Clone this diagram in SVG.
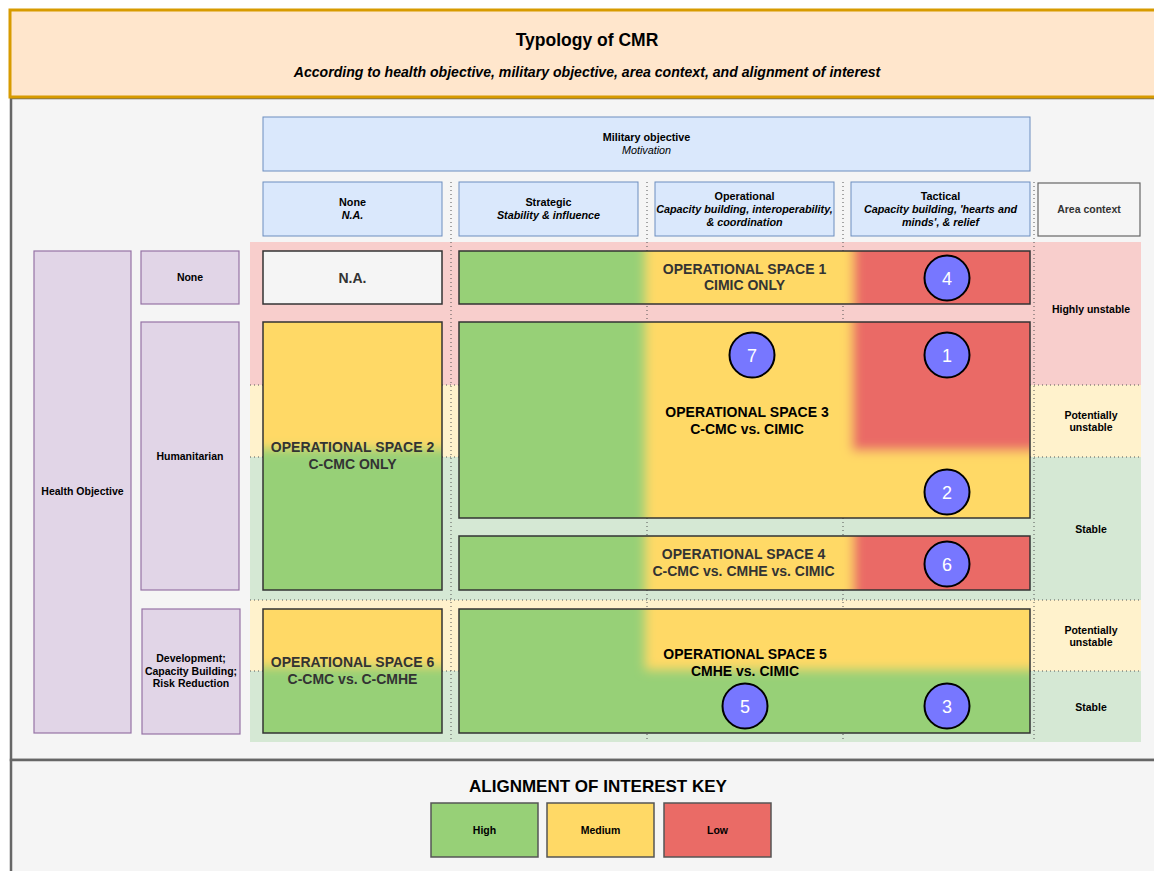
<svg xmlns="http://www.w3.org/2000/svg" width="1154" height="871" viewBox="0 0 1154 871">
<defs>
<style>
text{font-family:"Liberation Sans",Arial,Helvetica,sans-serif;fill:#000;text-anchor:middle}
.b{font-weight:bold}
.hd{font-size:10.8px;font-weight:bold}
.hi{font-size:10.8px;font-weight:bold;font-style:italic}
.lb{font-size:10.5px;font-weight:bold}
.os{font-size:14px;font-weight:bold}
.num{font-size:18px;fill:#fff}
.blue{fill:#dae8fc;stroke:#6c8ebf;stroke-width:1}
.purple{fill:#e1d5e7;stroke:#9673a6;stroke-width:1.2}
.box{fill:none;stroke:#333;stroke-width:1.5}
.dot{stroke:#555;stroke-width:1;stroke-dasharray:1 3;fill:none}
.circ{fill:#7777ff;stroke:#000;stroke-width:2}
.g{fill:#97d077}.y{fill:#ffd966}.r{fill:#ea6b66}
</style>
<filter id="soft" filterUnits="userSpaceOnUse" x="0" y="0" width="1154" height="871"><feGaussianBlur stdDeviation="5.5"/></filter>
<clipPath id="c1"><rect x="459" y="251" width="571" height="53"/></clipPath>
<clipPath id="c2"><rect x="263" y="322" width="179" height="268"/></clipPath>
<clipPath id="c3"><rect x="459" y="322" width="571" height="196"/></clipPath>
<clipPath id="c4"><rect x="459" y="536" width="571" height="54"/></clipPath>
<clipPath id="c5"><rect x="459" y="609" width="571" height="124"/></clipPath>
<clipPath id="c6"><rect x="263" y="609" width="179" height="124"/></clipPath>
</defs>
<rect x="0" y="0" width="1154" height="871" fill="#ffffff"/>

<g id="panel-main">
<rect x="11" y="98" width="1160" height="662" fill="#f5f5f5" stroke="#666" stroke-width="2.5"/>
</g>
<g id="panel-key">
<rect x="11" y="760" width="1160" height="130" fill="#f5f5f5" stroke="#666" stroke-width="2.5"/>
</g>
<g id="title">
<rect x="10" y="10" width="1160" height="87" fill="#ffe6cc" stroke="#d79b00" stroke-width="3"/>
<text x="587" y="46" class="b" style="font-size:17.5px">Typology of CMR</text>
<text x="587" y="77" class="b" style="font-size:14.1px;font-style:italic">According to health objective, military objective, area context, and alignment of interest</text>
</g>

<g id="bands">
<rect x="250" y="242" width="891" height="143" fill="#f8cecc"/>
<rect x="250" y="385" width="891" height="72" fill="#fff2cc"/>
<rect x="250" y="457" width="891" height="143" fill="#d5e8d4"/>
<rect x="250" y="600" width="891" height="71" fill="#fff2cc"/>
<rect x="250" y="671" width="891" height="71" fill="#d5e8d4"/>
</g>

<g id="connectors">
<line class="dot" x1="451" y1="182" x2="451" y2="742"/>
<line class="dot" x1="647" y1="182" x2="647" y2="742"/>
<line class="dot" x1="843" y1="182" x2="843" y2="742"/>
<line class="dot" x1="1034" y1="182" x2="1034" y2="742"/>
<line class="dot" x1="250" y1="385" x2="1141" y2="385"/>
<line class="dot" x1="250" y1="457" x2="1141" y2="457"/>
<line class="dot" x1="250" y1="600" x2="1141" y2="600"/>
<line class="dot" x1="250" y1="671" x2="1141" y2="671"/>
</g>

<g id="military-objective">
<rect class="blue" x="263" y="117" width="767" height="54"/>
<text x="646.5" y="141" class="hd">Military objective</text>
<text x="646.5" y="154" style="font-size:10.8px;font-style:italic">Motivation</text>
</g>
<g id="col-none">
<rect class="blue" x="263" y="182" width="179" height="54"/>
<text x="352.5" y="206" class="hd">None</text>
<text x="352.5" y="219" class="hi">N.A.</text>
</g>
<g id="col-strategic">
<rect class="blue" x="459" y="182" width="179" height="54"/>
<text x="548.5" y="206" class="hd">Strategic</text>
<text x="548.5" y="219" class="hi">Stability &amp; influence</text>
</g>
<g id="col-operational">
<rect class="blue" x="655" y="182" width="179" height="54"/>
<text x="744.5" y="200" class="hd">Operational</text>
<text x="744.5" y="213" class="hi">Capacity building, interoperability,</text>
<text x="744.5" y="226" class="hi">&amp; coordination</text>
</g>
<g id="col-tactical">
<rect class="blue" x="851" y="182" width="179" height="54"/>
<text x="940.5" y="200" class="hd">Tactical</text>
<text x="940.5" y="213" class="hi">Capacity building, 'hearts and</text>
<text x="940.5" y="226" class="hi">minds', &amp; relief</text>
</g>
<g id="col-area">
<rect x="1038" y="183" width="102" height="53" fill="#f5f5f5" stroke="#666" stroke-width="1.2"/>
<text x="1089" y="213" class="lb" style="fill:#333">Area context</text>
</g>

<g id="health-objective">
<rect class="purple" x="34" y="251" width="97" height="482"/>
<text x="82.5" y="495" class="lb">Health Objective</text>
</g>
<g id="ho-none">
<rect class="purple" x="141" y="251" width="98" height="53"/>
<text x="190" y="281" class="lb">None</text>
</g>
<g id="ho-humanitarian">
<rect class="purple" x="141" y="322" width="98" height="268"/>
<text x="190" y="460" class="lb">Humanitarian</text>
</g>
<g id="ho-development">
<rect class="purple" x="142" y="609" width="98" height="125"/>
<text x="191" y="662" class="lb">Development;</text>
<text x="191" y="674.5" class="lb">Capacity Building;</text>
<text x="191" y="687" class="lb">Risk Reduction</text>
</g>

<g id="area-labels">
<text x="1091" y="313" class="lb">Highly unstable</text>
<text x="1091" y="419" class="lb">Potentially</text>
<text x="1091" y="431" class="lb">unstable</text>
<text x="1091" y="533" class="lb">Stable</text>
<text x="1091" y="634" class="lb">Potentially</text>
<text x="1091" y="646" class="lb">unstable</text>
<text x="1091" y="711" class="lb">Stable</text>
</g>

<g id="na">
<rect x="263" y="251" width="179" height="53" fill="#f5f5f5" stroke="#333" stroke-width="1.5"/>
<text x="352.5" y="283" class="os" style="fill:#333">N.A.</text>
</g>

<g id="os1">
<g clip-path="url(#c1)">
<rect class="g" x="459" y="251" width="571" height="53"/>
<g filter="url(#soft)">
<rect class="y" x="645" y="230" width="420" height="100"/>
<rect class="r" x="853" y="230" width="220" height="100"/>
</g>
</g>
<rect class="box" x="459" y="251" width="571" height="53"/>
<text x="744.5" y="274" class="os" style="fill:#333">OPERATIONAL SPACE 1</text>
<text x="744.5" y="290" class="os" style="fill:#333">CIMIC ONLY</text>
<circle class="circ" cx="947" cy="278" r="22.5"/>
<text x="947" y="284.5" class="num">4</text>
</g>

<g id="os2">
<g clip-path="url(#c2)">
<rect class="y" x="263" y="322" width="179" height="268"/>
<g filter="url(#soft)">
<rect class="g" x="240" y="449" width="230" height="170"/>
</g>
</g>
<rect class="box" x="263" y="322" width="179" height="268"/>
<text x="352.5" y="452" class="os" style="fill:#333">OPERATIONAL SPACE 2</text>
<text x="352.5" y="469" class="os" style="fill:#333">C-CMC ONLY</text>
</g>

<g id="os3">
<g clip-path="url(#c3)">
<rect class="g" x="459" y="322" width="571" height="196"/>
<g filter="url(#soft)">
<rect class="y" x="645" y="300" width="420" height="240"/>
<rect class="r" x="852" y="300" width="220" height="151"/>
</g>
</g>
<rect class="box" x="459" y="322" width="571" height="196"/>
<text x="747" y="417" class="os">OPERATIONAL SPACE 3</text>
<text x="747" y="434" class="os">C-CMC vs. CIMIC</text>
<circle class="circ" cx="752" cy="355" r="22.5"/>
<text x="752" y="361.5" class="num">7</text>
<circle class="circ" cx="947" cy="355" r="22.5"/>
<text x="947" y="361.5" class="num">1</text>
<circle class="circ" cx="947" cy="492" r="22.5"/>
<text x="947" y="498.5" class="num">2</text>
</g>

<g id="os4">
<g clip-path="url(#c4)">
<rect class="g" x="459" y="536" width="571" height="54"/>
<g filter="url(#soft)">
<rect class="y" x="645" y="515" width="420" height="100"/>
<rect class="r" x="853" y="515" width="220" height="100"/>
</g>
</g>
<rect class="box" x="459" y="536" width="571" height="54"/>
<text x="743.5" y="559" class="os" style="fill:#333">OPERATIONAL SPACE 4</text>
<text x="743.5" y="576" class="os" style="fill:#333">C-CMC vs. CMHE vs. CIMIC</text>
<circle class="circ" cx="947" cy="564" r="22.5"/>
<text x="947" y="570.5" class="num">6</text>
</g>

<g id="os5">
<g clip-path="url(#c5)">
<rect class="g" x="459" y="609" width="571" height="124"/>
<g filter="url(#soft)">
<rect class="y" x="645" y="590" width="420" height="80"/>
</g>
</g>
<rect class="box" x="459" y="609" width="571" height="124"/>
<text x="745" y="659" class="os">OPERATIONAL SPACE 5</text>
<text x="745" y="676" class="os">CMHE vs. CIMIC</text>
<circle class="circ" cx="745" cy="706" r="22.5"/>
<text x="745" y="712.5" class="num">5</text>
<circle class="circ" cx="947" cy="706" r="22.5"/>
<text x="947" y="712.5" class="num">3</text>
</g>

<g id="os6">
<g clip-path="url(#c6)">
<rect class="y" x="263" y="609" width="179" height="124"/>
<g filter="url(#soft)">
<rect class="g" x="240" y="667" width="230" height="90"/>
</g>
</g>
<rect class="box" x="263" y="609" width="179" height="124"/>
<text x="352.5" y="667" class="os" style="fill:#333">OPERATIONAL SPACE 6</text>
<text x="352.5" y="684" class="os" style="fill:#333">C-CMC vs. C-CMHE</text>
</g>

<g id="key">
<text x="598" y="792" class="b" style="font-size:17px">ALIGNMENT OF INTEREST KEY</text>
<g id="key-high">
<rect class="g" x="431" y="803" width="107" height="54" stroke="#555" stroke-width="1.5"/>
<text x="484.5" y="834" class="lb">High</text>
</g>
<g id="key-medium">
<rect class="y" x="547" y="803" width="107" height="54" stroke="#555" stroke-width="1.5"/>
<text x="600.5" y="834" class="lb">Medium</text>
</g>
<g id="key-low">
<rect class="r" x="664" y="803" width="107" height="54" stroke="#555" stroke-width="1.5"/>
<text x="717.5" y="834" class="lb">Low</text>
</g>
</g>
</svg>
